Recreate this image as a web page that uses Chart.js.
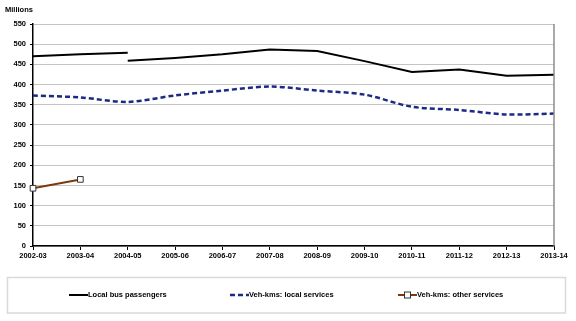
<!DOCTYPE html>
<html>
<head>
<meta charset="utf-8">
<script src="https://cdn.jsdelivr.net/npm/chart.js@4/dist/chart.umd.min.js"></script>
<style>
  html, body { margin: 0; padding: 0; background: #fff; }
  canvas { display: block; }
</style>
</head>
<body>
<canvas id="busChart" width="576" height="321"></canvas>
<script>
// years along the bottom
const years = ['2002-03', '2003-04', '2004-05', '2005-06', '2006-07', '2007-08',
  '2008-09', '2009-10', '2010-11', '2011-12', '2012-13', '2013-14'];

// passengers, old basis up to 2004-05 then the revised series
const passengersOld = [470, 475, 479, null, null, null, null, null, null, null, null, null];
const passengersNew = [null, null, 459, 466, 475, 487, 483, 458, 431, 437, 422, 424];

// vehicle kilometres
const vehKmsLocal = [373, 368, 357, 373, 385, 395, 385, 375, 345, 337, 326, 328];
const vehKmsOther = [143, 165, null, null, null, null, null, null, null, null, null, null];

const yTicks = [0, 50, 100, 150, 200, 250, 300, 350, 400, 450, 500, 550];

const tickFont = { family: 'Liberation Sans, Arial, sans-serif', size: 7.5, weight: 'bold' };

// legend entries drawn by hand: x start of each sample
const legendItems = [
  { label: 'Local bus passengers', x: 69, ds: 0 },
  { label: 'Veh-kms: local services', x: 230, ds: 2 },
  { label: 'Veh-kms: other services', x: 398, ds: 3 }
];

const framePlugin = {
  id: 'frame',
  afterDraw(chart) {
    const ctx = chart.ctx;
    const area = chart.chartArea;
    ctx.save();

    // right edge of the plot
    ctx.strokeStyle = '#8c8c8c';
    ctx.lineWidth = 1.5;
    ctx.beginPath();
    ctx.moveTo(area.right, area.top);
    ctx.lineTo(area.right, area.bottom);
    ctx.stroke();

    // unit label
    ctx.fillStyle = '#000';
    ctx.font = 'bold 7.5px Liberation Sans, Arial, sans-serif';
    ctx.textBaseline = 'middle';
    ctx.textAlign = 'left';
    ctx.fillText('Millions', 5, 10);

    // legend box
    ctx.strokeStyle = '#d9d9d9';
    ctx.lineWidth = 1.5;
    ctx.strokeRect(7.5, 277.5, 558, 35.5);

    const y = 295;
    legendItems.forEach(item => {
      const ds = chart.data.datasets[item.ds];
      ctx.strokeStyle = ds.borderColor;
      ctx.lineWidth = ds.borderWidth;
      ctx.setLineDash(ds.borderDash || []);
      ctx.beginPath();
      ctx.moveTo(item.x, y);
      ctx.lineTo(item.x + 19, y);
      ctx.stroke();
      ctx.setLineDash([]);
      if (ds.pointRadius > 0) {
        ctx.fillStyle = ds.pointBackgroundColor;
        ctx.strokeStyle = ds.pointBorderColor;
        ctx.lineWidth = 1;
        ctx.fillRect(item.x + 6.5, y - 3, 6, 6);
        ctx.strokeRect(item.x + 6.5, y - 3, 6, 6);
      }
      ctx.fillStyle = '#000';
      ctx.fillText(item.label, item.x + 19, y);
    });
    ctx.restore();
  }
};

new Chart(document.getElementById('busChart'), {
  type: 'line',
  data: {
    labels: years,
    datasets: [
      {
        label: 'Local bus passengers',
        data: passengersOld,
        borderColor: '#000',
        borderWidth: 2,
        pointRadius: 0,
        tension: 0
      },
      {
        label: 'Local bus passengers (revised)',
        data: passengersNew,
        borderColor: '#000',
        borderWidth: 2,
        pointRadius: 0,
        tension: 0
      },
      {
        label: 'Veh-kms: local services',
        data: vehKmsLocal,
        borderColor: '#1c2a86',
        borderWidth: 2.5,
        borderDash: [5, 3],
        pointRadius: 0,
        tension: 0.3
      },
      {
        label: 'Veh-kms: other services',
        data: vehKmsOther,
        borderColor: '#7a3a0e',
        borderWidth: 2,
        pointStyle: 'rect',
        pointRadius: 4,
        pointBackgroundColor: '#fff',
        pointBorderColor: '#333',
        pointBorderWidth: 1,
        tension: 0
      }
    ]
  },
  options: {
    responsive: false,
    animation: false,
    spanGaps: false,
    layout: { padding: { top: 24, right: 22, left: 0, bottom: 0 } },
    plugins: {
      legend: { display: false },
      tooltip: { enabled: false }
    },
    scales: {
      x: {
        offset: false,
        afterFit: scale => { scale.height = 75; },
        grid: {
          drawOnChartArea: false,
          drawTicks: true,
          tickLength: 4,
          tickColor: '#000'
        },
        border: { color: '#000', width: 1.5 },
        ticks: {
          color: '#000',
          font: tickFont,
          maxRotation: 0,
          autoSkip: false,
          padding: 1
        }
      },
      y: {
        min: 0,
        max: 550,
        afterFit: scale => { scale.width = 33; },
        afterBuildTicks: scale => { scale.ticks = yTicks.map(v => ({ value: v })); },
        grid: {
          color: '#c4c4c4',
          lineWidth: 1,
          drawTicks: true,
          tickLength: 3,
          tickColor: '#000'
        },
        border: { color: '#000', width: 1.5 },
        ticks: {
          color: '#000',
          font: tickFont,
          padding: 4
        }
      }
    }
  },
  plugins: [framePlugin]
});
</script>
</body>
</html>
